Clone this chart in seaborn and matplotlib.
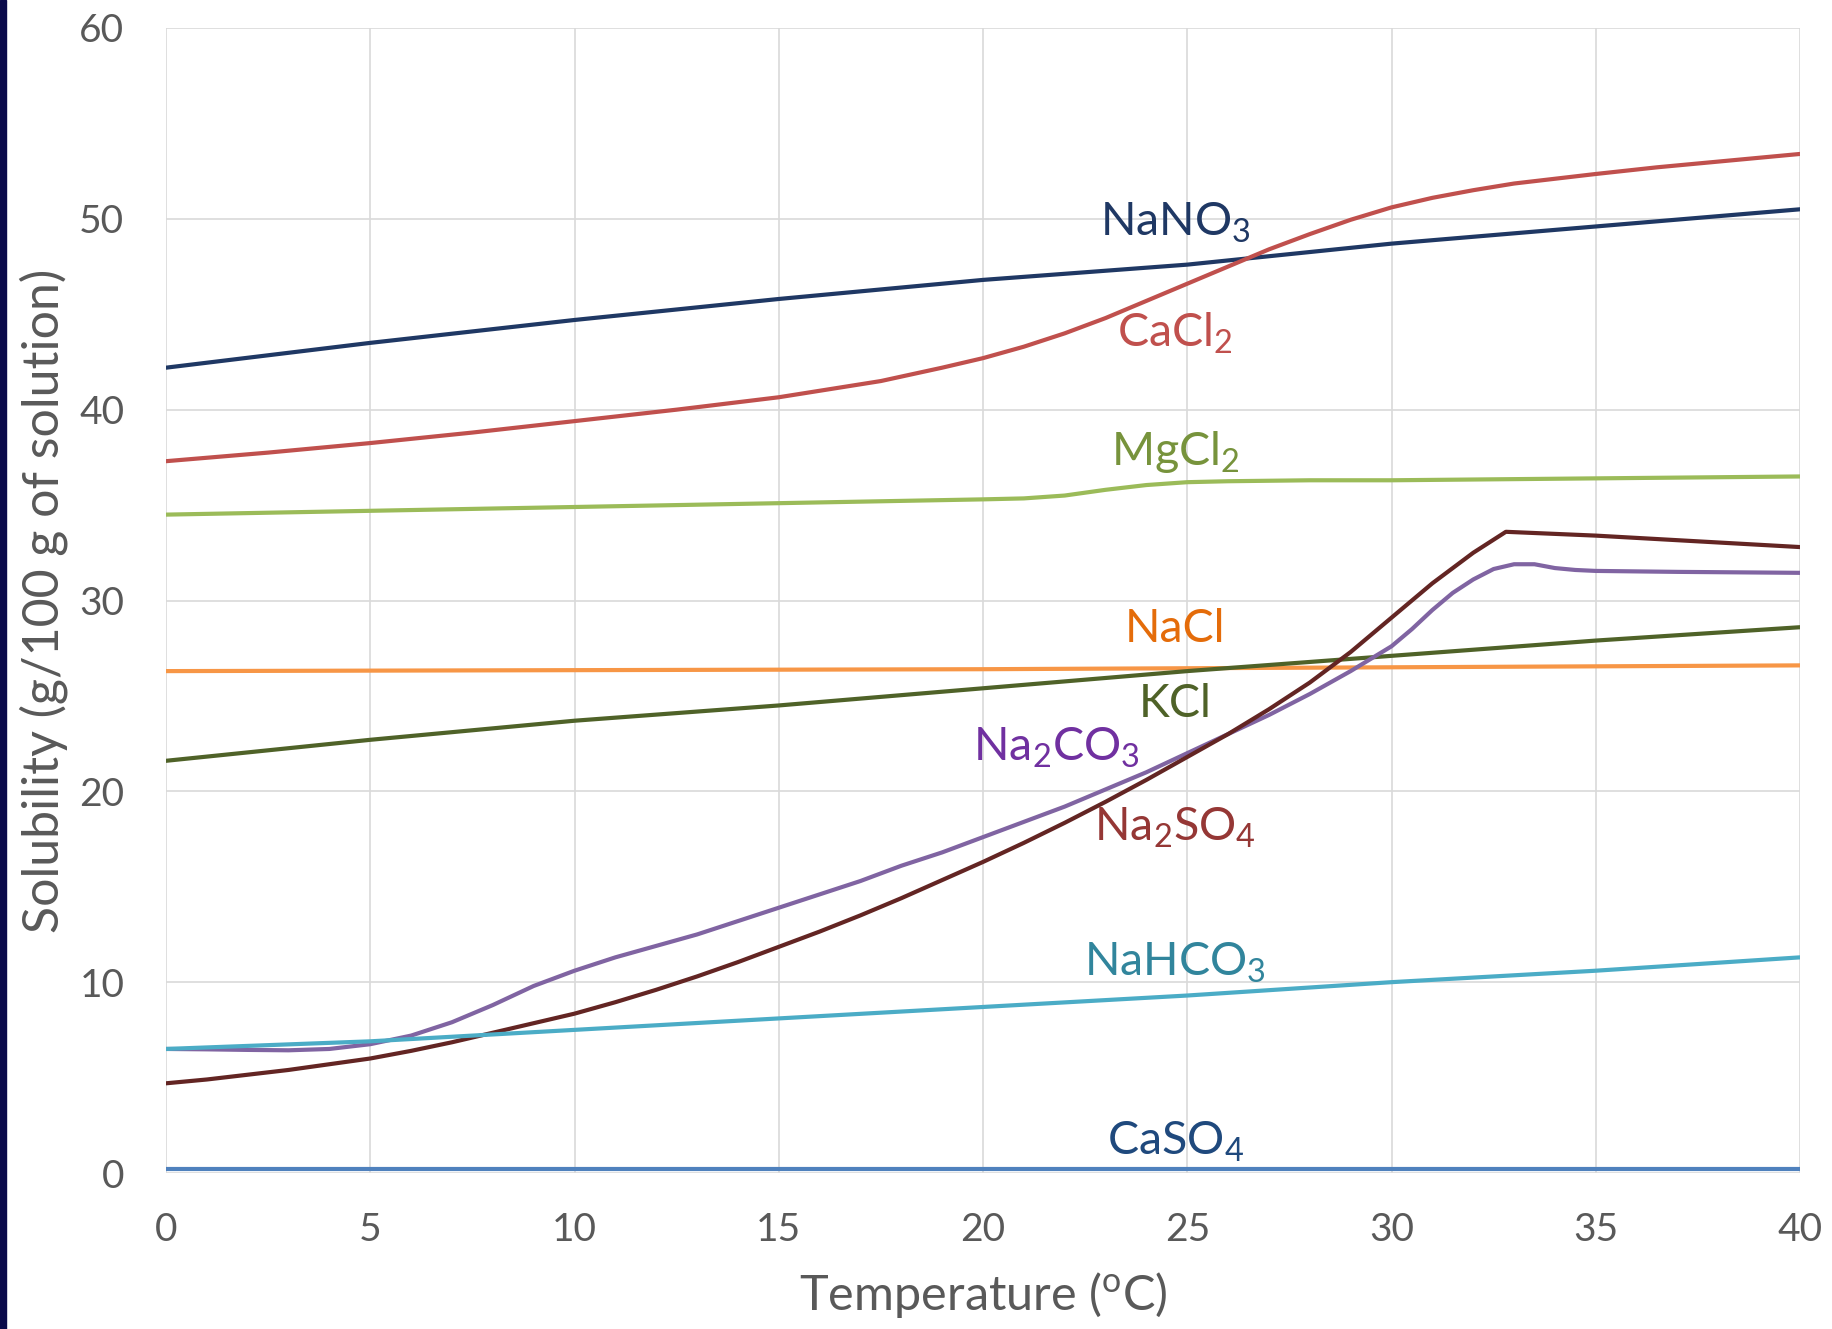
import matplotlib
matplotlib.use("Agg")
import matplotlib.pyplot as plt
import seaborn as sns
import pandas as pd
from matplotlib.patches import Rectangle

# ---------------- data ----------------
t_nano3 = [0, 5, 10, 15, 20, 25, 30, 35, 40]
v_nano3 = [42.2, 43.5, 44.7, 45.8, 46.8, 47.6, 48.7, 49.6, 50.5]

t_cacl2 = [0, 2.5, 5, 7.5, 10, 12.5, 15, 17.5, 19, 20, 21, 22, 23, 24, 25, 26, 27, 28, 29,
           30, 31, 32, 33, 34, 35, 36.5, 38, 40]
v_cacl2 = [37.3, 37.75, 38.25, 38.8, 39.4, 40.0, 40.65, 41.5, 42.2, 42.7, 43.3, 44.0, 44.8,
           45.7, 46.6, 47.5, 48.4, 49.2, 49.95, 50.6, 51.1, 51.5, 51.85, 52.1, 52.35, 52.7, 53.0, 53.4]

t_mgcl2 = [0, 5, 10, 15, 20, 21, 22, 23, 24, 25, 26, 28, 30, 35, 40]
v_mgcl2 = [34.5, 34.7, 34.9, 35.1, 35.3, 35.35, 35.5, 35.8, 36.05, 36.2, 36.25, 36.3, 36.3, 36.4, 36.5]

t_nacl = [0, 10, 20, 30, 40]
v_nacl = [26.3, 26.35, 26.4, 26.5, 26.6]

t_kcl = [0, 5, 10, 15, 20, 25, 30, 35, 40]
v_kcl = [21.6, 22.7, 23.7, 24.5, 25.4, 26.3, 27.1, 27.9, 28.6]

t_na2co3 = [0, 1, 2, 3, 4, 5, 6, 7, 8, 9, 10, 11, 12, 13, 14, 15, 16, 17, 18, 19, 20, 21, 22,
            23, 24, 25, 26, 27, 28, 29, 30, 30.5, 31, 31.5, 32, 32.5, 33, 33.5, 34, 34.5, 35, 37, 40]
v_na2co3 = [6.5, 6.48, 6.45, 6.43, 6.5, 6.75, 7.2, 7.9, 8.8, 9.8, 10.6, 11.3, 11.9, 12.5, 13.2,
            13.9, 14.6, 15.3, 16.1, 16.8, 17.6, 18.4, 19.2, 20.1, 21.0, 22.0, 23.0, 24.0, 25.1,
            26.3, 27.6, 28.5, 29.5, 30.4, 31.1, 31.65, 31.9, 31.9, 31.7, 31.6, 31.55, 31.5, 31.45]

t_na2so4 = [0, 1, 2, 3, 4, 5, 6, 7, 8, 9, 10, 11, 12, 13, 14, 15, 16, 17, 18, 19, 20, 21, 22,
            23, 24, 25, 26, 27, 28, 29, 30, 31, 32, 32.8, 35, 40]
v_na2so4 = [4.7, 4.9, 5.15, 5.4, 5.7, 6.0, 6.4, 6.85, 7.35, 7.85, 8.35, 8.95, 9.6, 10.3, 11.05,
            11.85, 12.65, 13.5, 14.4, 15.35, 16.3, 17.3, 18.35, 19.45, 20.6, 21.8, 23.0, 24.3,
            25.7, 27.3, 29.1, 30.9, 32.5, 33.6, 33.4, 32.8]

t_nahco3 = [0, 5, 10, 15, 20, 25, 30, 35, 40]
v_nahco3 = [6.5, 6.9, 7.5, 8.1, 8.7, 9.3, 10.0, 10.6, 11.3]

t_caso4 = [0, 10, 20, 30, 40]
v_caso4 = [0.2, 0.2, 0.2, 0.2, 0.2]

names = ["NaNO$_3$", "CaCl$_2$", "MgCl$_2$", "NaCl", "KCl",
         "Na$_2$CO$_3$", "Na$_2$SO$_4$", "NaHCO$_3$", "CaSO$_4$"]
temps = [t_nano3, t_cacl2, t_mgcl2, t_nacl, t_kcl, t_na2co3, t_na2so4, t_nahco3, t_caso4]
vals = [v_nano3, v_cacl2, v_mgcl2, v_nacl, v_kcl, v_na2co3, v_na2so4, v_nahco3, v_caso4]
line_colors = ["#1f3864", "#c0504d", "#9bbb59", "#f79646", "#4f6228",
               "#8064a2", "#632523", "#4bacc6", "#4f81bd"]
text_colors = ["#1f3864", "#c0504d", "#77933c", "#e46c0a", "#4f6228",
               "#7030a0", "#953735", "#31859c", "#1f497d"]
label_x = [24.7, 24.7, 24.7, 24.7, 24.7, 21.8, 24.7, 24.7, 24.7]
label_y = [49.8, 44.0, 37.8, 28.5, 24.6, 22.3, 18.1, 11.0, 1.65]

x_ticks = [0, 5, 10, 15, 20, 25, 30, 35, 40]
y_ticks = [0, 10, 20, 30, 40, 50, 60]

# ---------------- style ----------------
sns.set_theme(style="whitegrid")
plt.rcParams['font.family'] = ['Lato', 'DejaVu Sans']
plt.rcParams['mathtext.fontset'] = 'custom'
plt.rcParams['mathtext.rm'] = 'Lato'
plt.rcParams['mathtext.it'] = 'Lato'
plt.rcParams['mathtext.bf'] = 'Lato'

fig = plt.figure(figsize=(18.32, 13.29), dpi=100)
fig.patch.set_facecolor("white")
ax = fig.add_axes([166 / 1832, 156 / 1329, (1800 - 166) / 1832, (1173 - 28) / 1329])
ax.set_facecolor("white")

for name, t, v, c in zip(names, temps, vals, line_colors):
    df = pd.DataFrame({"T": t, "S": v})
    sns.lineplot(data=df, x="T", y="S", color=c, linewidth=3.0, ax=ax,
                 estimator=None, sort=False, zorder=3)

for name, lx, ly, tc in zip(names, label_x, label_y, text_colors):
    ax.text(lx, ly, name, color=tc, fontsize=33.5, ha="center", va="center", zorder=4)

ax.set_xlim(0, 40)
ax.set_ylim(0, 60)
ax.set_xticks(x_ticks)
ax.set_yticks(y_ticks)
ax.grid(True, color="#d9d9d9", linewidth=1.2)
for s in ax.spines.values():
    s.set_visible(False)
ax.tick_params(axis="both", length=0, labelsize=28, labelcolor="#595959")
ax.tick_params(axis="x", pad=28)
ax.tick_params(axis="y", pad=30)
ax.set_xlabel("Temperature ($^{\\mathrm{o}}$C)", fontsize=35, color="#595959", labelpad=16)
ax.set_ylabel("Solubility (g/100 g of solution)", fontsize=36, color="#595959", labelpad=8)

# dark frame strip on the left edge
fig.patches.append(Rectangle((0, 0), 6 / 1832, 1, transform=fig.transFigure,
                             color="#0a0a4a", zorder=10))

fig.savefig("out.png", dpi=100)
